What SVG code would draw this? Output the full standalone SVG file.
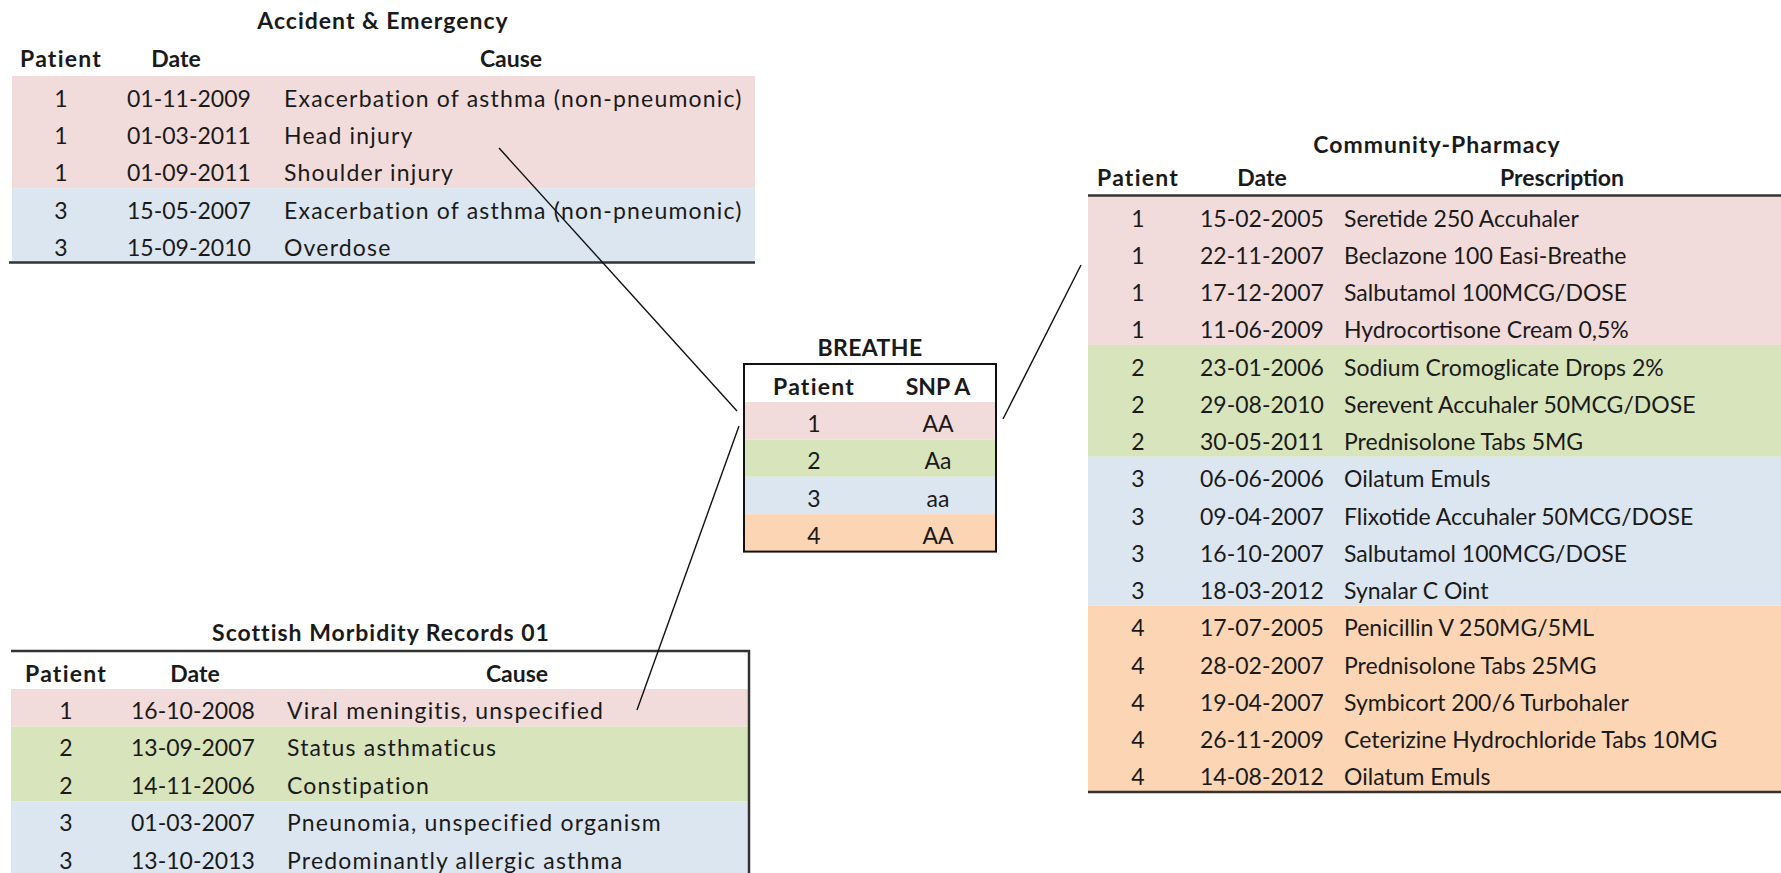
<svg xmlns="http://www.w3.org/2000/svg" width="1781" height="873" viewBox="0 0 1781 873">
<style>
text{font-family:Lato,"Open Sans","Liberation Sans",sans-serif;font-size:23px;fill:#1a1a1a}
.b{font-weight:bold}
.c{text-anchor:middle}
.t{letter-spacing:1px}
.p{letter-spacing:1.2px}
.w{letter-spacing:1.2px}
.pk{fill:#F2DCDB}
.gr{fill:#D8E4BC}
.bl{fill:#DCE6F1}
.or{fill:#FCD5B4}
.rule{stroke:#333;stroke-width:2.5;fill:none}
.conn{stroke:#111;stroke-width:1.4;fill:none}
</style>
<rect width="1781" height="873" fill="#fff"/>

<g id="ae">
<rect class="pk" x="12" y="76" width="743" height="112.2"/>
<rect class="bl" x="12" y="188.2" width="743" height="74.8"/>
<line class="rule" x1="9" y1="262.5" x2="755" y2="262.5"/>
<text class="b c t" x="383" y="29">Accident &amp; Emergency</text>
<text class="b c p" x="61" y="67">Patient</text>
<text class="b c" x="176" y="67">Date</text>
<text class="b c" x="511" y="67">Cause</text>
<text class="c" x="61" y="106.5">1</text><text x="127" y="106.5">01-11-2009</text><text class="w" x="284" y="106.5">Exacerbation of asthma (non-pneumonic)</text>
<text class="c" x="61" y="143.9">1</text><text x="127" y="143.9">01-03-2011</text><text class="w" x="284" y="143.9">Head injury</text>
<text class="c" x="61" y="181.3">1</text><text x="127" y="181.3">01-09-2011</text><text class="w" x="284" y="181.3">Shoulder injury</text>
<text class="c" x="61" y="218.7">3</text><text x="127" y="218.7">15-05-2007</text><text class="w" x="284" y="218.7">Exacerbation of asthma (non-pneumonic)</text>
<text class="c" x="61" y="256.1">3</text><text x="127" y="256.1">15-09-2010</text><text class="w" x="284" y="256.1">Overdose</text>
</g>

<g id="cp">
<rect class="pk" x="1088" y="196" width="693" height="149"/>
<rect class="gr" x="1088" y="345" width="693" height="111.75"/>
<rect class="bl" x="1088" y="456.75" width="693" height="149"/>
<rect class="or" x="1088" y="605.75" width="693" height="186.25"/>
<line class="rule" x1="1088" y1="195.5" x2="1781" y2="195.5"/>
<line class="rule" x1="1088" y1="792" x2="1781" y2="792"/>
<text class="b c t" x="1437" y="153">Community-Pharmacy</text>
<text class="b c p" x="1138" y="186">Patient</text>
<text class="b c" x="1262" y="186">Date</text>
<text class="b c" x="1562" y="186">Prescription</text>
<text class="c" x="1138" y="226.5">1</text><text x="1200" y="226.5">15-02-2005</text><text x="1344" y="226.5">Seretide 250 Accuhaler</text>
<text class="c" x="1138" y="263.75">1</text><text x="1200" y="263.75">22-11-2007</text><text x="1344" y="263.75">Beclazone 100 Easi-Breathe</text>
<text class="c" x="1138" y="301">1</text><text x="1200" y="301">17-12-2007</text><text x="1344" y="301">Salbutamol 100MCG/DOSE</text>
<text class="c" x="1138" y="338.25">1</text><text x="1200" y="338.25">11-06-2009</text><text x="1344" y="338.25">Hydrocortisone Cream 0,5%</text>
<text class="c" x="1138" y="375.5">2</text><text x="1200" y="375.5">23-01-2006</text><text x="1344" y="375.5">Sodium Cromoglicate Drops 2%</text>
<text class="c" x="1138" y="412.75">2</text><text x="1200" y="412.75">29-08-2010</text><text x="1344" y="412.75">Serevent Accuhaler 50MCG/DOSE</text>
<text class="c" x="1138" y="450">2</text><text x="1200" y="450">30-05-2011</text><text x="1344" y="450">Prednisolone Tabs 5MG</text>
<text class="c" x="1138" y="487.25">3</text><text x="1200" y="487.25">06-06-2006</text><text x="1344" y="487.25">Oilatum Emuls</text>
<text class="c" x="1138" y="524.5">3</text><text x="1200" y="524.5">09-04-2007</text><text x="1344" y="524.5">Flixotide Accuhaler 50MCG/DOSE</text>
<text class="c" x="1138" y="561.75">3</text><text x="1200" y="561.75">16-10-2007</text><text x="1344" y="561.75">Salbutamol 100MCG/DOSE</text>
<text class="c" x="1138" y="599">3</text><text x="1200" y="599">18-03-2012</text><text x="1344" y="599">Synalar C Oint</text>
<text class="c" x="1138" y="636.25">4</text><text x="1200" y="636.25">17-07-2005</text><text x="1344" y="636.25">Penicillin V 250MG/5ML</text>
<text class="c" x="1138" y="673.5">4</text><text x="1200" y="673.5">28-02-2007</text><text x="1344" y="673.5">Prednisolone Tabs 25MG</text>
<text class="c" x="1138" y="710.75">4</text><text x="1200" y="710.75">19-04-2007</text><text x="1344" y="710.75">Symbicort 200/6 Turbohaler</text>
<text class="c" x="1138" y="748">4</text><text x="1200" y="748">26-11-2009</text><text x="1344" y="748">Ceterizine Hydrochloride Tabs 10MG</text>
<text class="c" x="1138" y="785.25">4</text><text x="1200" y="785.25">14-08-2012</text><text x="1344" y="785.25">Oilatum Emuls</text>
</g>

<g id="breathe">
<rect class="pk" x="743" y="402" width="253" height="37.4"/>
<rect class="gr" x="743" y="439.4" width="253" height="37.4"/>
<rect class="bl" x="743" y="476.8" width="253" height="37.4"/>
<rect class="or" x="743" y="514.2" width="253" height="37.4"/>
<rect x="744" y="364" width="252" height="187.6" fill="none" stroke="#111" stroke-width="2"/>
<text class="b c" x="870" y="356" style="letter-spacing:0.4px">BREATHE</text>
<text class="b c p" x="814" y="395">Patient</text>
<text class="b c" x="938" y="395">SNP A</text>
<text class="c" x="814" y="432">1</text><text class="c" x="938" y="432">AA</text>
<text class="c" x="814" y="469.4">2</text><text class="c" x="938" y="469.4">Aa</text>
<text class="c" x="814" y="506.8">3</text><text class="c" x="938" y="506.8">aa</text>
<text class="c" x="814" y="544.2">4</text><text class="c" x="938" y="544.2">AA</text>
</g>

<g id="smr01">
<rect class="pk" x="11" y="689" width="738" height="37.4"/>
<rect class="gr" x="11" y="726.4" width="738" height="74.8"/>
<rect class="bl" x="11" y="801.2" width="738" height="72"/>
<line class="rule" x1="11" y1="651" x2="750" y2="651" stroke-width="2"/>
<line class="rule" x1="749" y1="650" x2="749" y2="873" stroke-width="2"/>
<text class="b c t" x="381" y="641">Scottish Morbidity Records 01</text>
<text class="b c p" x="66" y="682">Patient</text>
<text class="b c" x="195" y="682">Date</text>
<text class="b c" x="517" y="682">Cause</text>
<text class="c" x="66" y="719">1</text><text x="131" y="719">16-10-2008</text><text class="w" x="287" y="719">Viral meningitis, unspecified</text>
<text class="c" x="66" y="756.4">2</text><text x="131" y="756.4">13-09-2007</text><text class="w" x="287" y="756.4">Status asthmaticus</text>
<text class="c" x="66" y="793.8">2</text><text x="131" y="793.8">14-11-2006</text><text class="w" x="287" y="793.8">Constipation</text>
<text class="c" x="66" y="831.2">3</text><text x="131" y="831.2">01-03-2007</text><text class="w" x="287" y="831.2">Pneunomia, unspecified organism</text>
<text class="c" x="66" y="868.6">3</text><text x="131" y="868.6">13-10-2013</text><text class="w" x="287" y="868.6">Predominantly allergic asthma</text>
</g>

<g id="connectors">
<line class="conn" x1="499" y1="148" x2="737" y2="411"/>
<line class="conn" x1="739" y1="426" x2="637" y2="710"/>
<line class="conn" x1="1003" y1="419" x2="1081" y2="265"/>
</g>
</svg>
